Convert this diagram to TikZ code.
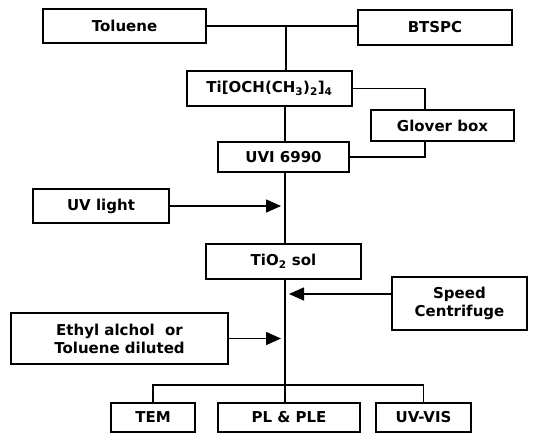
\documentclass[tikz,border=0pt]{standalone}
\usepackage{fontspec}
\setmainfont{DejaVu Sans}
\usetikzlibrary{arrows.meta}
\tikzset{
  stagebox/.style={draw, line width=1.6pt, inner sep=0pt, align=center,
    font=\bfseries\fontsize{15}{18}\selectfont},
  conn/.style={line width=1.6pt},
  feed/.style={line width=1.6pt, -{Triangle[length=15pt,width=13pt]}}
}
\begin{document}
\begin{tikzpicture}[x=1pt,y=-1pt]
\useasboundingbox (0,0) rectangle (536,438);
\node[stagebox, minimum width=163pt, minimum height=34pt] (tol) at (124.5,26) {Toluene};
\node[stagebox, minimum width=154pt, minimum height=35pt] (bts) at (435,27.5) {BTSPC};
\node[stagebox, minimum width=165pt, minimum height=35pt] (ti) at (269.5,88.5) {Ti[OCH(CH\textsubscript{3})\textsubscript{2}]\textsubscript{4}};
\node[stagebox, minimum width=143pt, minimum height=31pt] (glo) at (442.5,125.5) {Glover box};
\node[stagebox, minimum width=131pt, minimum height=30pt] (uvi) at (283.5,157) {UVI 6990};
\node[stagebox, minimum width=136pt, minimum height=34pt] (uvl) at (101,206) {UV light};
\node[stagebox, minimum width=155pt, minimum height=35pt] (tio) at (283.5,261.5) {TiO\textsubscript{2} sol};
\node[stagebox, minimum width=135pt, minimum height=53pt] (spd) at (459.5,303.5) {Speed\\Centrifuge};
\node[stagebox, minimum width=217pt, minimum height=51pt] (eth) at (119.5,338.5) {Ethyl alchol\ \ or\\Toluene diluted};
\node[stagebox, minimum width=84pt, minimum height=29pt] (tem) at (153,417.5) {TEM};
\node[stagebox, minimum width=142pt, minimum height=29pt] (pl) at (289,417.5) {PL \& PLE};
\node[stagebox, minimum width=95pt, minimum height=29pt] (uvv) at (423.5,417.5) {UV-VIS};

\coordinate (j1) at (286,26);
\coordinate (mx) at (285,0);
\coordinate (gx) at (425,0);
\coordinate (ax) at (281,0);
\coordinate (sa) at (289,294);
\coordinate (by) at (0,385);

\draw[conn] (tol.east) -- (tol.east -| bts.west);
\draw[conn] (j1) -- (j1 |- ti.north);
\draw[conn] (ti.east) -- (ti.east -| gx) -- (gx |- glo.north);
\draw[conn] (gx |- glo.south) |- (uvi.east);
\draw[conn] (mx |- ti.south) -- (mx |- uvi.north);
\draw[conn] (mx |- uvi.south) -- (mx |- tio.north);
\draw[conn] (mx |- tio.south) -- (mx |- pl.north);
\draw[feed] (uvl.east) -- (uvl.east -| ax);
\draw[feed] (spd.west |- sa) -- (sa);
\draw[feed] (eth.east) -- (eth.east -| ax);
\draw[conn] (tem.north) -- (tem.north |- by) -- (uvv.north |- by) -- (uvv.north);
\end{tikzpicture}
\end{document}
